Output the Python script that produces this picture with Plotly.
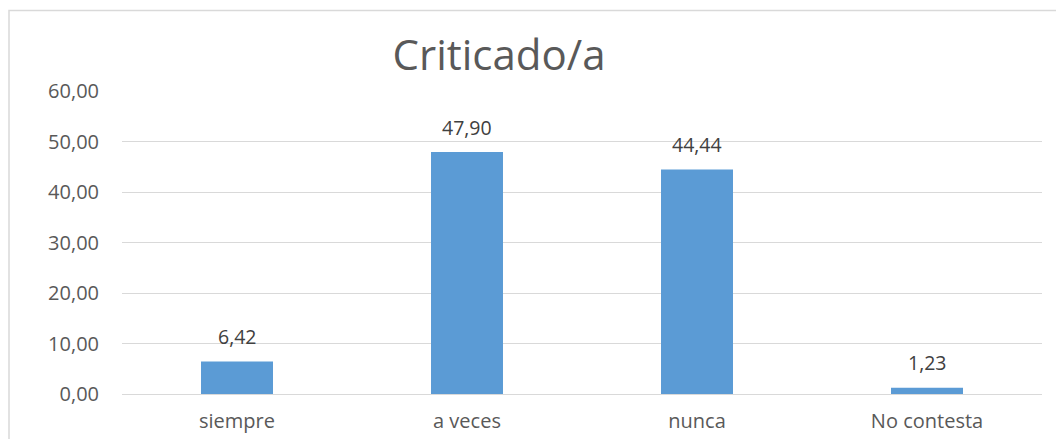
import plotly.graph_objects as go

categories = ["siempre", "a veces", "nunca", "No contesta"]
values = [6.42, 47.90, 44.44, 1.23]
labels = ["6,42", "47,90", "44,44", "1,23"]
tick_vals = [0, 10, 20, 30, 40, 50, 60]
tick_text = ["0,00", "10,00", "20,00", "30,00", "40,00", "50,00", "60,00"]

FONT = "Open Sans"

fig = go.Figure(go.Bar(
    x=categories, y=values,
    marker=dict(color="#5b9bd5", line=dict(width=0)),
    hoverinfo="x+y",
))

L, R, T, B = 122, 14, 91, 45
W, H = 1056, 439
pw = W - L - R
ph = H - T - B

annotations = [
    dict(x=c, y=v, text=t, xref="x", yref="y", showarrow=False,
         yanchor="middle", yshift=25,
         font=dict(family=FONT, size=19.5, color="#404040"))
    for c, v, t in zip(categories, values, labels)
]

fig.update_layout(
    width=W, height=H,
    margin=dict(l=L, r=R, t=T, b=B, autoexpand=False),
    paper_bgcolor="white", plot_bgcolor="white",
    bargap=0.687,
    showlegend=False,
    annotations=annotations,
    title=dict(text="Criticado/a", x=499 / W, xanchor="center", y=1 - 55 / H, yanchor="middle",
               font=dict(family=FONT, size=42, color="#595959")),
    font=dict(family=FONT, size=20, color="#595959"),
    xaxis=dict(showgrid=False, showline=False, ticks="", ticklabelstandoff=13, automargin=False,
               tickfont=dict(family=FONT, size=20, color="#595959")),
    yaxis=dict(range=[0, 60], tickvals=tick_vals, ticktext=tick_text, automargin=False,
               showgrid=True, gridcolor="#d9d9d9", gridwidth=1,
               zeroline=True, zerolinecolor="#d9d9d9", zerolinewidth=1,
               showline=False, ticks="", ticklabelstandoff=22,
               tickfont=dict(family=FONT, size=20, color="#595959")),
    shapes=[dict(type="rect", xref="paper", yref="paper",
                 x0=(9 - L) / pw, x1=(W + 5 - L) / pw,
                 y0=(H - B - (H + 5)) / ph, y1=(H - B - 10.5) / ph,
                 line=dict(color="#d9d9d9", width=1.5), fillcolor="rgba(0,0,0,0)", layer="below")],
)

fig.write_html("out.html", config={"displayModeBar": False},
               post_script="document.body.style.margin='0';document.body.style.overflow='hidden';")
